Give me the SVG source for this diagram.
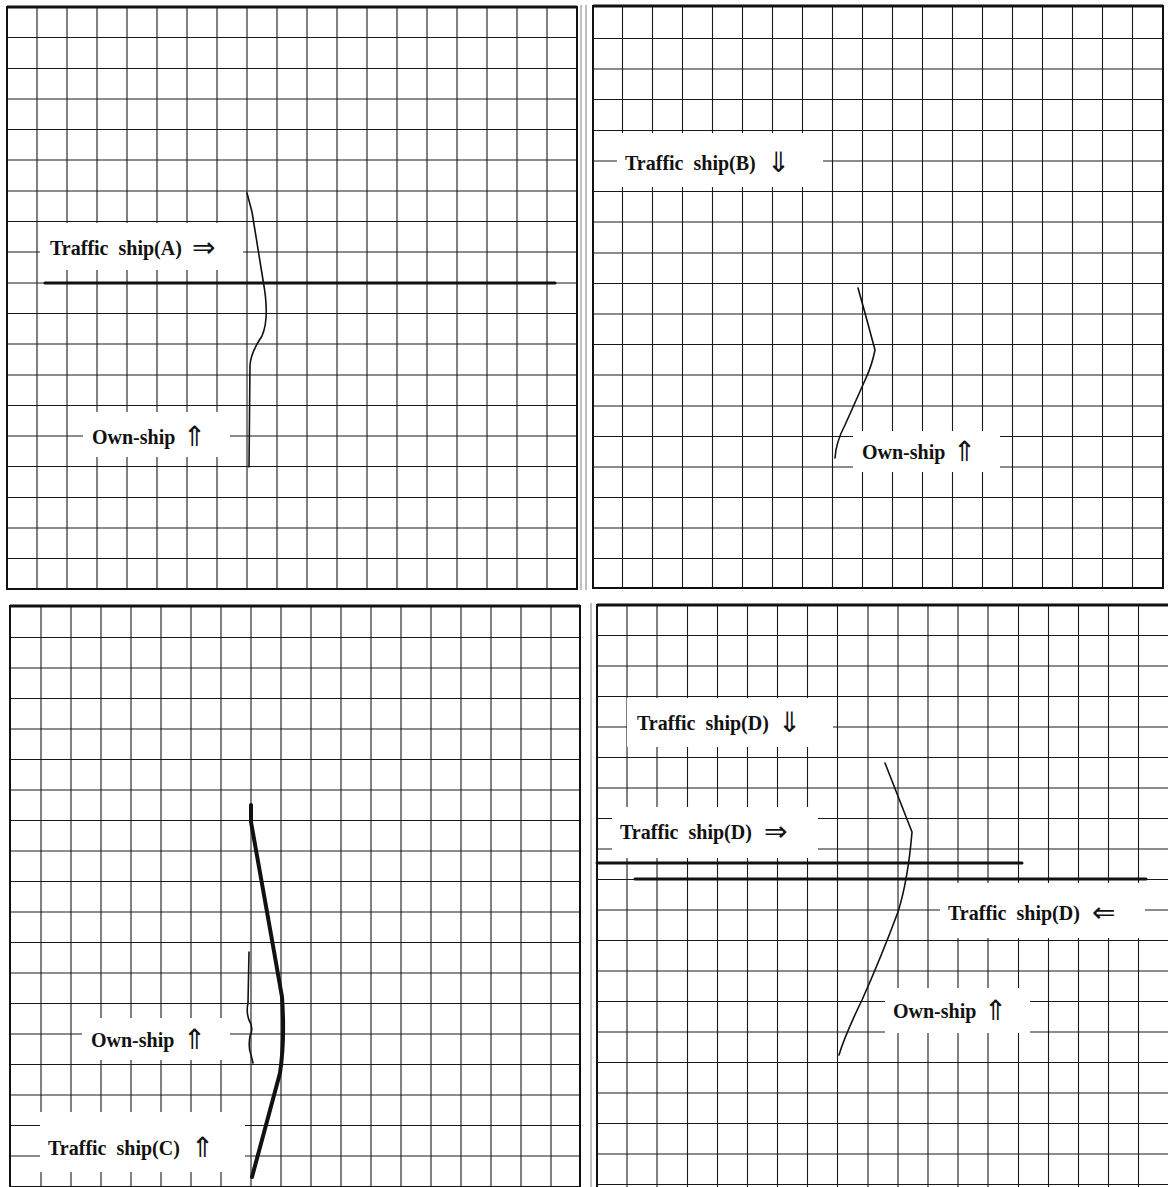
<svg xmlns="http://www.w3.org/2000/svg" width="1168" height="1187" viewBox="0 0 1168 1187">
<style>
.grid{fill:none;stroke:#1a1a1a;stroke-width:1.1}
.border{fill:none;stroke:#111;stroke-width:2}
.topb{stroke:#111;stroke-width:3}
.sep{stroke:#aaa;stroke-width:1.5}
.box{fill:#fff;stroke:none}
.lbl{font-family:"Liberation Serif","Times New Roman",serif;font-weight:bold;font-size:20px;fill:#111}
.arr{font-family:"DejaVu Sans",sans-serif;font-size:28px;fill:#111}
.own{fill:none;stroke:#111;stroke-width:1.6;stroke-linecap:round;stroke-linejoin:round}
.tline{fill:none;stroke:#111;stroke-width:3;stroke-linecap:round}
.tcurve{fill:none;stroke:#111;stroke-width:4;stroke-linecap:round;stroke-linejoin:round}
</style>
<rect width="1168" height="1187" fill="#fff"/>

<!-- Panel A -->
<g id="panel-a">
<path class="grid" d="M37 7V589M67 7V589M97 7V589M127 7V589M157 7V589M187 7V589M217 7V589M247 7V589M277 7V589M307 7V589M337 7V589M367 7V589M397 7V589M427 7V589M457 7V589M487 7V589M517 7V589M547 7V589"/>
<path class="grid" d="M7 37.5H577M7 68.5H577M7 99H577M7 129.5H577M7 160H577M7 191H577M7 221.5H577M7 252H577M7 283H577M7 313.5H577M7 344H577M7 375H577M7 405.5H577M7 436H577M7 466.5H577M7 497.5H577M7 528H577M7 558.5H577"/>
<rect class="border" x="7" y="7" width="570" height="582"/>
<path class="topb" d="M7 7H577"/>
<path class="sep" d="M581 5V590"/>
</g>

<!-- Panel B -->
<g id="panel-b">
<path class="grid" d="M622.5 6V588M652.5 6V588M682.5 6V588M712.5 6V588M742.5 6V588M772.5 6V588M802.5 6V588M832.5 6V588M862.5 6V588M892.5 6V588M922.5 6V588M952.5 6V588M982.5 6V588M1012.5 6V588M1042.5 6V588M1072.5 6V588M1102.5 6V588M1132.5 6V588"/>
<path class="grid" d="M593 38.5H1163M593 69H1163M593 99.5H1163M593 130.5H1163M593 161H1163M593 191.5H1163M593 222H1163M593 253H1163M593 283.5H1163M593 314H1163M593 344.5H1163M593 375H1163M593 406H1163M593 436.5H1163M593 467H1163M593 497.5H1163M593 528H1163M593 558.5H1163"/>
<rect class="border" x="593" y="6" width="570" height="582"/>
<path class="topb" d="M593 6H1163"/>
<path class="sep" d="M586 5V590"/>
</g>

<!-- Panel C -->
<g id="panel-c">
<path class="grid" d="M41 606V1187M71 606V1187M101 606V1187M131 606V1187M161 606V1187M191 606V1187M221 606V1187M251 606V1187M281 606V1187M311 606V1187M341 606V1187M371 606V1187M401 606V1187M431 606V1187M461 606V1187M491 606V1187M521 606V1187M551 606V1187"/>
<path class="grid" d="M10 637.5H580M10 668H580M10 698.5H580M10 729H580M10 759.5H580M10 790H580M10 820.5H580M10 851H580M10 881.5H580M10 912H580M10 942.5H580M10 973H580M10 1003.5H580M10 1034H580M10 1064.5H580M10 1095H580M10 1125.5H580M10 1156H580"/>
<rect class="border" x="10" y="606" width="570" height="581"/>
<path class="topb" d="M10 606H580"/>
</g>

<!-- Panel D -->
<g id="panel-d">
<path class="grid" d="M627 605V1187M657 605V1187M687.5 605V1187M717.5 605V1187M747.5 605V1187M777.5 605V1187M807.5 605V1187M837.5 605V1187M868 605V1187M898 605V1187M928 605V1187M958 605V1187M988 605V1187M1018.5 605V1187M1048.5 605V1187M1078.5 605V1187M1108.5 605V1187M1138.5 605V1187"/>
<path class="grid" d="M597 635.5H1168M597 666H1168M597 696.5H1168M597 727H1168M597 757.5H1168M597 788H1168M597 818.5H1168M597 849H1168M597 879.5H1168M597 910H1168M597 940.5H1168M597 971H1168M597 1001.5H1168M597 1032H1168M597 1062.5H1168M597 1093H1168M597 1123.5H1168M597 1154H1168M597 1184.5H1168"/>
<path class="border" d="M597 1187V605H1169"/>
<path class="topb" d="M597 605H1168"/>
<path class="sep" d="M591 603V1187"/>
</g>

<!-- Trajectories -->
<g id="connectors">
<path id="traffic-a" class="tline" d="M45 283H555"/>
<path id="own-a" class="own" d="M247 193L252 212L263 280Q270 318 262 336Q251 352 250 365L249 467"/>
<path id="own-b" class="own" d="M858 288L865 313L875 350Q872 365 866 378L845 425Q836 442 835 458"/>
<path id="traffic-c" class="tcurve" d="M251 805L251 822L272 940L282 997Q285 1040 280 1073L252 1177"/>
<path id="own-c" class="own" d="M249 952L248 1003Q246 1012 249 1020Q254 1028 250 1036Q248 1048 251 1055L253 1063"/>
<path id="traffic-d1" class="tline" d="M597 863H1022"/>
<path id="traffic-d2" class="tline" d="M635 879H1146"/>
<path id="own-d" class="own" d="M885 763L912 832Q908 880 898 912Q880 960 862 1000Q845 1035 839 1055"/>
</g>

<!-- Labels -->
<g id="label-traffic-a">
<rect class="box" x="40" y="223" width="203" height="47"/>
<text class="lbl" x="50" y="255">Traffic&#160; ship(A)</text>
<text class="arr" x="192" y="257">⇒</text>
</g>
<g id="label-own-a">
<rect class="box" x="83" y="412" width="147" height="45"/>
<text class="lbl" x="92" y="444">Own-ship</text>
<text class="arr" x="183" y="446">⇑</text>
</g>
<g id="label-traffic-b">
<rect class="box" x="617" y="133" width="206" height="54"/>
<text class="lbl" x="625" y="170">Traffic&#160; ship(B)</text>
<text class="arr" x="767" y="172">⇓</text>
</g>
<g id="label-own-b">
<rect class="box" x="853" y="431" width="147" height="41"/>
<text class="lbl" x="862" y="459">Own-ship</text>
<text class="arr" x="953" y="461">⇑</text>
</g>
<g id="label-own-c">
<rect class="box" x="82" y="1018" width="148" height="42"/>
<text class="lbl" x="91" y="1047">Own-ship</text>
<text class="arr" x="183" y="1049">⇑</text>
</g>
<g id="label-traffic-c">
<rect class="box" x="40" y="1112" width="205" height="60"/>
<text class="lbl" x="48" y="1155">Traffic&#160; ship(C)</text>
<text class="arr" x="191" y="1157">⇑</text>
</g>
<g id="label-traffic-d-down">
<rect class="box" x="627" y="698" width="206" height="49"/>
<text class="lbl" x="637" y="730">Traffic&#160; ship(D)</text>
<text class="arr" x="778" y="732">⇓</text>
</g>
<g id="label-traffic-d-right">
<rect class="box" x="612" y="807" width="206" height="51"/>
<text class="lbl" x="620" y="839">Traffic&#160; ship(D)</text>
<text class="arr" x="764" y="841">⇒</text>
</g>
<g id="label-traffic-d-left">
<rect class="box" x="940" y="883" width="205" height="55"/>
<text class="lbl" x="948" y="920">Traffic&#160; ship(D)</text>
<text class="arr" x="1092" y="922">⇐</text>
</g>
<g id="label-own-d">
<rect class="box" x="885" y="988" width="145" height="45"/>
<text class="lbl" x="893" y="1018">Own-ship</text>
<text class="arr" x="984" y="1020">⇑</text>
</g>
</svg>
